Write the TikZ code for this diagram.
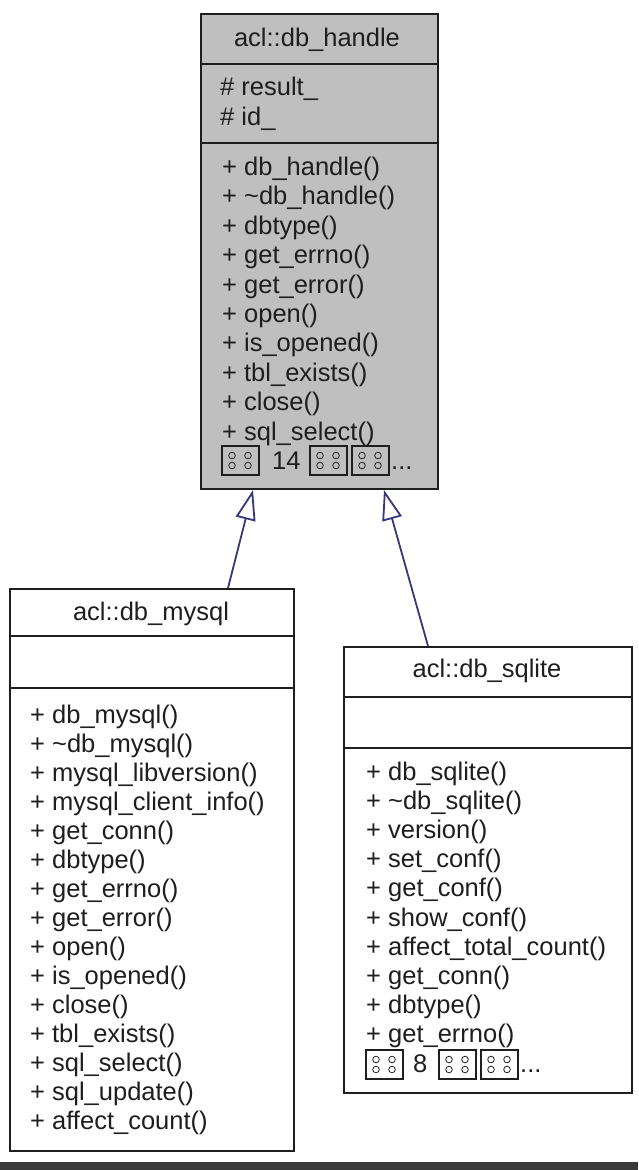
\documentclass[tikz,border=0pt]{standalone}
\usepackage{fontspec}
\setmainfont{Liberation Sans}
\usetikzlibrary{arrows.meta}
\definecolor{boxgray}{HTML}{BFBFBF}
\definecolor{edgeblue}{RGB}{55,55,125}
\definecolor{ink}{HTML}{1E1E1E}
\definecolor{barcol}{HTML}{3A3A3A}
\begin{document}
\begin{tikzpicture}[x=1pt,y=-1pt,
  classbox/.style={draw=ink, line width=2pt, anchor=north west, inner sep=0pt},
  sepline/.style={draw=ink, line width=2pt},
  txt/.style={font=\fontsize{25.5}{29}\selectfont, text=ink, anchor=base west, inner sep=0pt},
  ttl/.style={font=\fontsize{25.5}{29}\selectfont, text=ink, anchor=base, inner sep=0pt},
  inh/.style={draw=edgeblue, line width=1.8pt, -{Triangle[open, length=30pt, width=20pt, fill=white]}},
  tofu/.pic={
    \draw[ink, line width=1.3pt] (0,0) rectangle (37,29);
    \foreach \cx in {10,26} \foreach \cy in {9.5,19.5}
      \draw[ink, line width=0.8pt] (\cx,\cy) circle[radius=3.3pt];
  }]
\useasboundingbox (0,0) rectangle (638,1170);
\fill[barcol] (0,1162) rectangle (638,1170);

% ---- base class
\node[classbox, fill=boxgray, minimum width=237pt, minimum height=475pt] (base) at (200,13) {};
\draw[sepline] (200,64) -- (437,64);
\draw[sepline] (200,143) -- (437,143);
\node[ttl] (btitle) at (317,46) {acl::db\_handle};
\node[txt] (ba0) at (220,95.5) {\# result\_};
\node[txt] (ba1) at (220,125) {\# id\_};
\foreach \t [count=\i from 0] in {+ db\_handle(), + \textasciitilde db\_handle(), + dbtype(), + get\_errno(), + get\_error(), + open(), + is\_opened(), + tbl\_exists(), + close(), + sql\_select()}
  \node[txt] (bm\i) at (222,175.5+29.4*\i) {\t};
\pic at (222,446) {tofu};
\node[txt] (bmore) at (272,469.5) {14};
\pic at (310,446) {tofu};
\pic at (352,446) {tofu};
\node[txt] (bdots) at (391,469.5) {...};

% ---- db_mysql
\node[classbox, fill=white, minimum width=284pt, minimum height=562pt] (mysql) at (9,588) {};
\draw[sepline] (9,636) -- (293,636);
\draw[sepline] (9,688) -- (293,688);
\node[ttl] (ltitle) at (151,620) {acl::db\_mysql};
\foreach \t [count=\i from 0] in {+ db\_mysql(), + \textasciitilde db\_mysql(), + mysql\_libversion(), + mysql\_client\_info(), + get\_conn(), + dbtype(), + get\_errno(), + get\_error(), + open(), + is\_opened(), + close(), + tbl\_exists(), + sql\_select(), + sql\_update(), + affect\_count()}
  \node[txt] (lm\i) at (30,723+29.07*\i) {\t};

% ---- db_sqlite
\node[classbox, fill=white, minimum width=288pt, minimum height=446pt] (sqlite) at (343,646) {};
\draw[sepline] (343,697) -- (631,697);
\draw[sepline] (343,748) -- (631,748);
\node[ttl] (rtitle) at (487,677) {acl::db\_sqlite};
\foreach \t [count=\i from 0] in {+ db\_sqlite(), + \textasciitilde db\_sqlite(), + version(), + set\_conf(), + get\_conf(), + show\_conf(), + affect\_total\_count(), + get\_conn(), + dbtype(), + get\_errno()}
  \node[txt] (rm\i) at (366,780+29.2*\i) {\t};
\pic at (366,1050) {tofu};
\node[txt] (rmore) at (413,1072) {8};
\pic at (439,1050) {tofu};
\pic at (481,1050) {tofu};
\node[txt] (rdots) at (520,1072) {...};

% ---- inheritance
\draw[inh] ([xshift=76pt]mysql.north) -- ([xshift=-66.5pt]base.south);
\draw[inh] ([xshift=-60pt]sqlite.north) -- ([xshift=64.5pt]base.south);
\end{tikzpicture}
\end{document}
